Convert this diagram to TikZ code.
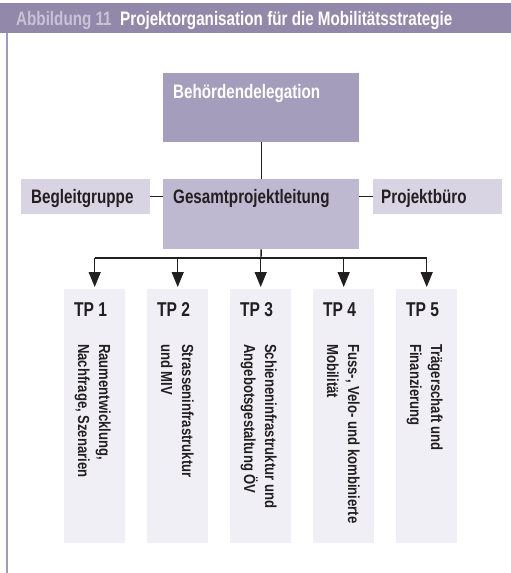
\documentclass[tikz,border=0pt]{standalone}
\usepackage{fontspec}
\setmainfont{Liberation Sans}
\newfontfamily\cnd{Liberation Sans}[FakeStretch=0.78]
\newfontfamily\cndb{Liberation Sans}[FakeStretch=0.82]
\usetikzlibrary{arrows.meta}
\definecolor{hdr}{RGB}{146,137,170}
\definecolor{hdrlight}{RGB}{200,194,215}
\definecolor{boxA}{RGB}{164,158,188}
\definecolor{boxB}{RGB}{190,185,208}
\definecolor{boxC}{RGB}{216,212,228}
\definecolor{boxD}{RGB}{240,239,245}
\definecolor{sideline}{RGB}{162,154,190}
\definecolor{ink}{RGB}{35,31,32}
\tikzset{
  box/.style={rectangle, draw=none, inner sep=0pt, anchor=north west},
  lbl/.style={font=\cnd\bfseries\fontsize{19.5}{19.5}\selectfont, inner sep=0pt, anchor=base west, text=ink},
  tplbl/.style={font=\cnd\bfseries\fontsize{20}{20}\selectfont, inner sep=0pt, anchor=base west, text=ink},
  body/.style={font=\cndb\bfseries\fontsize{16}{16}\selectfont, inner sep=0pt, anchor=base west, rotate=-90, text=ink},
  conn/.style={draw=ink, line width=1.4pt},
  arr/.style={conn, -{Triangle[width=12pt,length=15pt]}, shorten >=2pt},
  tpbox/.style={box, fill=boxD, minimum width=61pt, minimum height=254pt}
}
\begin{document}
\begin{tikzpicture}[x=1pt,y=-1pt]
\useasboundingbox (0,0) rectangle (511,573);
% header
\fill[hdr] (0,3) rectangle (511,33);
\draw[sideline, line width=2pt] (7,33) -- (7,573);
\node[lbl, text=hdrlight] (abb) at (16,25) {Abbildung 11};
\node[lbl, text=white] (title) at (120,25) {Projektorganisation für die Mobilitätsstrategie};
% top boxes
\node[box, fill=boxA, minimum width=196pt, minimum height=69pt] (beh) at (163,73) {};
\node[lbl, text=white] (behT) at (173,98) {Behördendelegation};
\node[box, fill=boxB, minimum width=196pt, minimum height=70pt] (ges) at (163,179) {};
\node[lbl] (gesT) at (173,203) {Gesamtprojektleitung};
\node[box, fill=boxC, minimum width=129pt, minimum height=35pt] (beg) at (21,179) {};
\node[lbl] (begT) at (31,203) {Begleitgruppe};
\node[box, fill=boxC, minimum width=129pt, minimum height=35pt] (pb) at (373,179) {};
\node[lbl] (pbT) at (381,203) {Projektbüro};
% connectors top
\draw[conn] (beh.south) -- (ges.north);
\draw[conn] (beg.east) -- (beg.east -| ges.west);
\draw[conn] (pb.west) -- (pb.west -| ges.east);
% TP boxes
\node[tpbox] (tp1) at (64,289) {};
\node[tpbox] (tp2) at (147,289) {};
\node[tpbox] (tp3) at (230,289) {};
\node[tpbox] (tp4) at (313,289) {};
\node[tpbox] (tp5) at (396,289) {};
\coordinate (split) at (261,258);
\draw[conn] (ges.south) -- (split);
\draw[conn] (tp1.north |- split) -- (tp5.north |- split);
\foreach \t in {tp1,tp2,tp3,tp4,tp5}{
  \draw[arr] (\t.north |- split) -- (\t.north);
}
% TP labels
\node[tplbl] (tp1L) at (74,316) {TP 1};
\node[tplbl] (tp2L) at (157,316) {TP 2};
\node[tplbl] (tp3L) at (240,316) {TP 3};
\node[tplbl] (tp4L) at (323,316) {TP 4};
\node[tplbl] (tp5L) at (406,316) {TP 5};
% rotated body texts
\node[body] (tp1a) at (99,344) {Raumentwicklung,};
\node[body] (tp1b) at (78,344) {Nachfrage, Szenarien};
\node[body] (tp2a) at (182,344) {Strasseninfrastruktur};
\node[body] (tp2b) at (161,344) {und MIV};
\node[body] (tp3a) at (265,344) {Schieneninfrastruktur und};
\node[body] (tp3b) at (244,344) {Angebotsgestaltung ÖV};
\node[body] (tp4a) at (348,344) {Fuss-, Velo- und kombinierte};
\node[body] (tp4b) at (327,344) {Mobilität};
\node[body] (tp5a) at (431,344) {Trägerschaft und};
\node[body] (tp5b) at (410,344) {Finanzierung};
\end{tikzpicture}
\end{document}
